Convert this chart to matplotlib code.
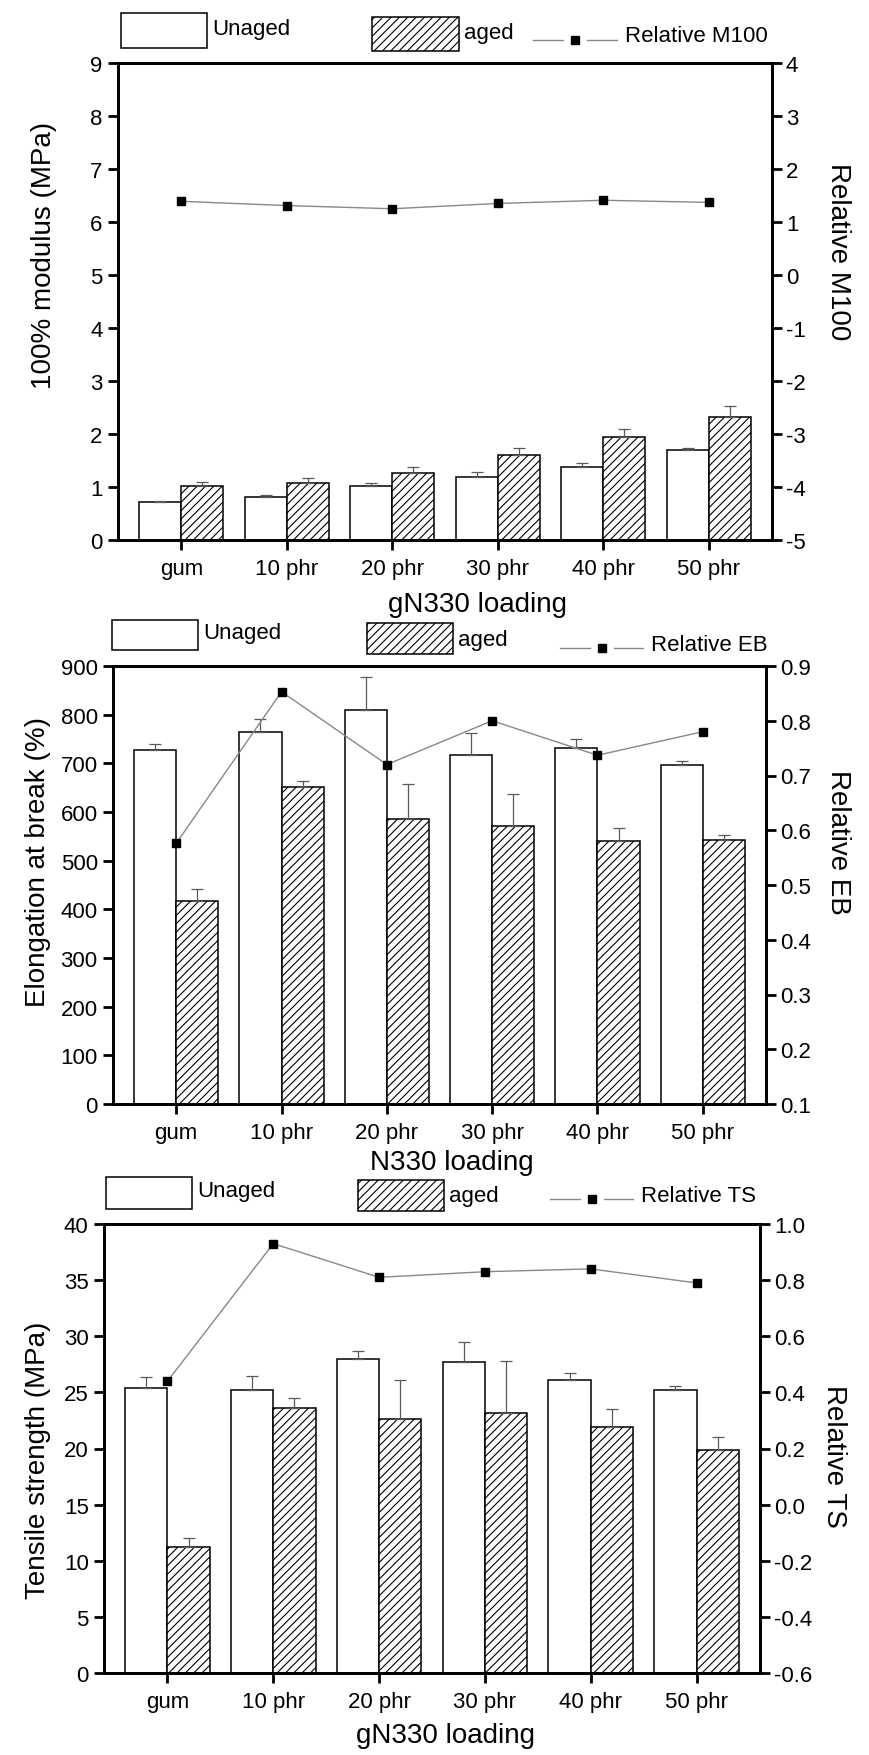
import matplotlib
matplotlib.use("Agg")
import matplotlib.pyplot as plt
import numpy as np
from matplotlib.patches import Rectangle
from matplotlib.lines import Line2D

plt.rcParams["font.family"] = ["Liberation Sans", "DejaVu Sans"]
plt.rcParams["hatch.linewidth"] = 0.8

categories = ["gum", "10 phr", "20 phr", "30 phr", "40 phr", "50 phr"]

# 100% modulus (MPa)
m100_unaged = [0.72, 0.82, 1.01, 1.19, 1.38, 1.70]
m100_unaged_err = [0.02, 0.03, 0.07, 0.10, 0.08, 0.04]
m100_aged = [1.01, 1.08, 1.27, 1.60, 1.94, 2.33]
m100_aged_err = [0.09, 0.09, 0.10, 0.13, 0.15, 0.19]
m100_relative = [1.39, 1.31, 1.25, 1.35, 1.41, 1.37]

# Elongation at break (%)
eb_unaged = [728, 765, 810, 717, 732, 697]
eb_unaged_err = [12, 27, 68, 45, 18, 8]
eb_aged = [418, 652, 585, 572, 540, 543]
eb_aged_err = [23, 12, 73, 64, 28, 9]
eb_relative = [0.576, 0.853, 0.720, 0.800, 0.737, 0.780]

# Tensile strength (MPa)
ts_unaged = [25.4, 25.2, 28.0, 27.7, 26.1, 25.2]
ts_unaged_err = [1.0, 1.3, 0.7, 1.8, 0.6, 0.4]
ts_aged = [11.2, 23.6, 22.6, 23.2, 21.9, 19.9]
ts_aged_err = [0.8, 0.9, 3.5, 4.6, 1.6, 1.1]
ts_relative = [0.44, 0.93, 0.81, 0.83, 0.84, 0.79]

W, H = 869, 1756
fig = plt.figure(figsize=(W / 100, H / 100), dpi=100)
fig.patch.set_facecolor("white")

TICK_FS = 16
LABEL_FS = 20
LEG_FS = 16


def px_axes(left, right, top, bottom):
    return fig.add_axes([left / W, 1 - bottom / H, (right - left) / W, (bottom - top) / H])


def panel(box, unaged, unaged_err, aged, aged_err, rel, ylim, yticks, rylim, rticks, rfmt):
    ax = px_axes(*box)
    x = np.arange(1, len(categories) + 1)
    bw = 0.4
    ax.bar(x - bw / 2, unaged, width=bw, facecolor="white", edgecolor="black", linewidth=1.1, zorder=2)
    ax.bar(x + bw / 2, aged, width=bw, facecolor="white", edgecolor="black", linewidth=1.1,
           hatch="////", zorder=2)
    zeros = np.zeros(len(x))
    ax.errorbar(x - bw / 2, unaged, yerr=[zeros, unaged_err], fmt="none", ecolor="#5a5a5a",
                elinewidth=0.9, capsize=4, capthick=0.9, zorder=3)
    ax.errorbar(x + bw / 2, aged, yerr=[zeros, aged_err], fmt="none", ecolor="#5a5a5a",
                elinewidth=0.9, capsize=4, capthick=0.9, zorder=3)
    ax.set_xlim(0.4, 6.6)
    ax.set_ylim(*ylim)
    ax.set_yticks(yticks)
    ax.set_xticks(x)
    ax.set_xticklabels(categories)
    for s in ax.spines.values():
        s.set_linewidth(2.0)
    ax.tick_params(axis="both", direction="out", length=7, width=2.0, labelsize=TICK_FS, pad=4)
    ax.tick_params(axis="x", pad=6)

    ax2 = ax.twinx()
    ax2.plot(x, rel, color="#888888", linewidth=1.0, marker="s", markersize=6,
             markerfacecolor="black", markeredgecolor="black", zorder=4)
    ax2.set_ylim(*rylim)
    ax2.set_yticks(rticks)
    ax2.set_yticklabels([rfmt.format(v) for v in rticks])
    for s in ax2.spines.values():
        s.set_linewidth(2.0)
    ax2.tick_params(axis="y", direction="out", length=7, width=2.0, labelsize=TICK_FS, pad=3)
    return ax, ax2


panel((118, 772, 64, 541), m100_unaged, m100_unaged_err, m100_aged, m100_aged_err, m100_relative,
      (0, 9), np.arange(0, 10, 1), (-5, 4), list(range(-5, 5)), "{:d}")
panel((113, 766, 667, 1105), eb_unaged, eb_unaged_err, eb_aged, eb_aged_err, eb_relative,
      (0, 900), np.arange(0, 1000, 100), (0.1, 0.9), [round(v, 1) for v in np.arange(0.1, 0.95, 0.1)],
      "{:.1f}")
panel((104, 760, 1225, 1674), ts_unaged, ts_unaged_err, ts_aged, ts_aged_err, ts_relative,
      (0, 40), np.arange(0, 45, 5), (-0.6, 1.0), [round(v, 1) for v in np.arange(-0.6, 1.05, 0.2)],
      "{:.1f}")

# overlay for legends and axis titles, in pixel coordinates
ov = fig.add_axes([0, 0, 1, 1], zorder=10)
ov.set_xlim(0, W)
ov.set_ylim(H, 0)
ov.axis("off")
ov.patch.set_alpha(0)


def legend(ub, ab, line, ytxt, rel_label):
    ux0, ux1, uy0, uy1 = ub
    ov.add_patch(Rectangle((ux0, uy0), ux1 - ux0, uy1 - uy0, facecolor="white", edgecolor="black",
                           linewidth=1.1))
    ov.text(ux1 + 5, ytxt[0], "Unaged", fontsize=LEG_FS, ha="left", va="center")
    ax0, ax1, ay0, ay1 = ab
    ov.add_patch(Rectangle((ax0, ay0), ax1 - ax0, ay1 - ay0, facecolor="white", edgecolor="black",
                           linewidth=1.1, hatch="////"))
    ov.text(ax1 + 5, ytxt[1], "aged", fontsize=LEG_FS, ha="left", va="center")
    lx0, lx1, ly = line
    mx = (lx0 + lx1) / 2
    ov.add_line(Line2D([lx0, mx - 12], [ly, ly], color="#888888", linewidth=1.0))
    ov.add_line(Line2D([mx + 12, lx1], [ly, ly], color="#888888", linewidth=1.0))
    ov.add_line(Line2D([mx], [ly], marker="s", markersize=6, color="black", linestyle="none"))
    ov.text(lx1 + 8, ytxt[2], rel_label, fontsize=LEG_FS, ha="left", va="center")


legend((121, 207, 14, 49), (372, 459, 18, 52), (533, 617, 41), (30, 34, 37), "Relative M100")
legend((112, 198, 621, 651), (367, 453, 624, 655), (560, 643, 649), (634, 641, 646), "Relative EB")
legend((106, 192, 1178, 1210), (358, 444, 1181, 1212), (550, 633, 1200), (1192, 1197, 1197), "Relative TS")

# axis titles
ov.text(478, 605, "gN330 loading", fontsize=LABEL_FS, ha="center", va="center")
ov.text(452, 1163, "N330 loading", fontsize=LABEL_FS, ha="center", va="center")
ov.text(445, 1736, "gN330 loading", fontsize=LABEL_FS, ha="center", va="center")

ov.text(44, 255, "100% modulus (MPa)", fontsize=LABEL_FS, rotation=90, ha="center", va="center")
ov.text(38, 862, "Elongation at break (%)", fontsize=LABEL_FS, rotation=90, ha="center", va="center")
ov.text(38, 1460, "Tensile strength (MPa)", fontsize=LABEL_FS, rotation=90, ha="center", va="center")

ov.text(838, 252, "Relative M100", fontsize=LABEL_FS, rotation=270, ha="center", va="center")
ov.text(838, 842, "Relative EB", fontsize=LABEL_FS, rotation=270, ha="center", va="center")
ov.text(834, 1456, "Relative TS", fontsize=LABEL_FS, rotation=270, ha="center", va="center")

fig.savefig("out.png", dpi=100, facecolor="white")
